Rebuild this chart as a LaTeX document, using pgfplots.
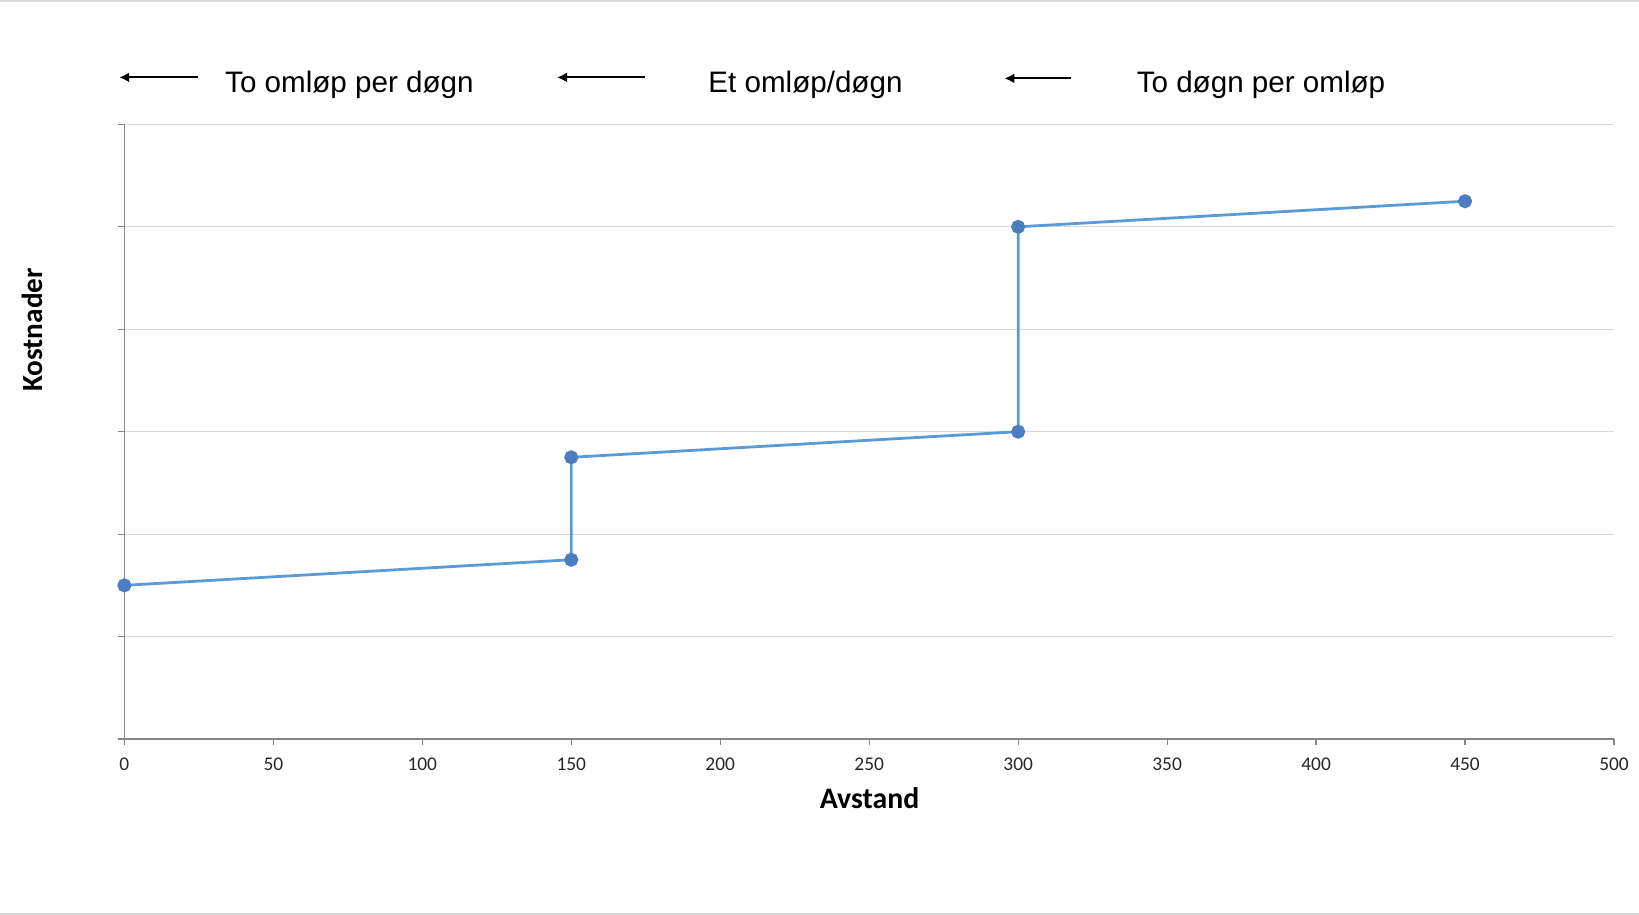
\documentclass[border=0pt]{standalone}
\usepackage{fontspec}
\setmainfont{Carlito}
\newfontfamily\arialfont{Liberation Sans}
\usepackage{pgfplots}
\pgfplotsset{compat=1.18}
\usetikzlibrary{arrows.meta}
\definecolor{lineblue}{HTML}{5B9BD5}
\definecolor{markblue}{HTML}{4A7EC0}
\definecolor{gridgray}{HTML}{D9D9D9}
\definecolor{axisgray}{HTML}{868686}
\begin{document}
\begin{tikzpicture}
\useasboundingbox (0,0) rectangle (819.5pt,457.5pt);
\draw[gridgray, line width=1pt] (0,457pt) -- (819.5pt,457pt);
\draw[gridgray, line width=1pt] (0,0.7pt) -- (819.5pt,0.7pt);
\begin{axis}[
  at={(62.2pt,88pt)}, anchor=south west,
  scale only axis, width=744.8pt, height=307.3pt,
  xmin=0, xmax=500, ymin=0, ymax=6,
  xtick={0,50,...,500}, ytick={0,1,...,6},
  yticklabels={},
  axis x line*=bottom, axis y line*=left,
  axis line style={axisgray, line width=0.75pt, -},
  ymajorgrids, major grid style={gridgray, line width=0.6pt},
  tick style={axisgray, line width=0.6pt},
  tick align=outside, major tick length=3pt,
  /pgf/number format/assume math mode=true,
  ticklabel style={font=\fontsize{9.7}{11}\selectfont, color=black!85},
  xticklabel style={yshift=-3pt},
  clip=false,
]
\addplot[lineblue, line width=1.4pt, mark=*, mark size=2.8pt,
  mark options={fill=markblue, draw=markblue}]
  coordinates {(0,1.5) (150,1.75) (150,2.75) (300,3) (300,5) (450,5.25)};
\end{axis}
\node[font=\bfseries\fontsize{14.9}{17}\selectfont, anchor=base] at (434.8pt,53pt) {Avstand};
\node[font=\bfseries\fontsize{14.6}{17}\selectfont, rotate=90, anchor=center] at (16.2pt,292.5pt) {Kostnader};
\begin{scope}[line width=1pt, -{Latex[length=5pt,width=5pt]}]
\draw (98.8pt,418.8pt) -- (59.6pt,418.8pt);
\draw (322.5pt,418.8pt) -- (278.5pt,418.8pt);
\draw (535.5pt,418.3pt) -- (502.2pt,418.3pt);
\end{scope}
\begin{scope}[every node/.style={font=\arialfont\fontsize{14.8}{17}\selectfont, anchor=base west, inner sep=0pt}]
\node at (112.4pt,411pt) {To omløp per døgn};
\node at (354pt,411pt) {Et omløp/døgn};
\node at (568.2pt,411pt) {To døgn per omløp};
\end{scope}
\end{tikzpicture}
\end{document}
